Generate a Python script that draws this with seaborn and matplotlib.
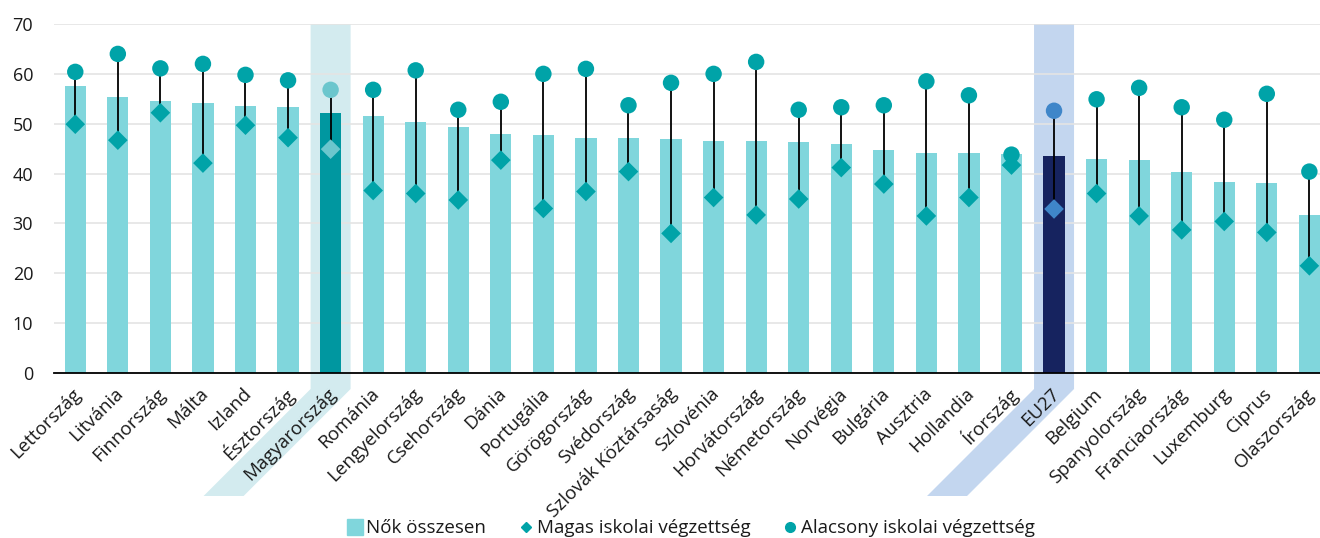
import numpy as np
import pandas as pd
import seaborn as sns
import matplotlib.pyplot as plt
import matplotlib.transforms as mtransforms
from matplotlib.patches import Polygon
from matplotlib.lines import Line2D

# Adatok (leolvasva az ábráról)
countries = ["Lettország", "Litvánia", "Finnország", "Málta", "Izland", "Észtország",
             "Magyarország", "Románia", "Lengyelország", "Csehország", "Dánia", "Portugália",
             "Görögország", "Svédország", "Szlovák Köztársaság", "Szlovénia", "Horvátország",
             "Németország", "Norvégia", "Bulgária", "Ausztria", "Hollandia", "Írország", "EU27",
             "Belgium", "Spanyolország", "Franciaország", "Luxemburg", "Ciprus", "Olaszország"]
women_total = [57.6, 55.3, 54.6, 54.2, 53.6, 53.3, 52.1, 51.5, 50.4, 49.3, 47.9, 47.7,
               47.2, 47.1, 47.0, 46.5, 46.5, 46.3, 45.9, 44.7, 44.1, 44.1, 43.9, 43.6,
               42.9, 42.7, 40.4, 38.3, 38.1, 31.7]
low_edu = [60.4, 64.0, 61.1, 62.0, 59.8, 58.7, 56.8, 56.8, 60.7, 52.8, 54.4, 60.0,
           61.0, 53.7, 58.2, 60.0, 62.4, 52.8, 53.3, 53.7, 58.5, 55.7, 43.8, 52.6,
           54.9, 57.2, 53.3, 50.8, 56.0, 40.4]
high_edu = [49.9, 46.7, 52.2, 42.1, 49.7, 47.2, 44.9, 36.6, 36.0, 34.7, 42.7, 33.0,
            36.4, 40.4, 28.0, 35.2, 31.7, 34.9, 41.2, 37.9, 31.5, 35.2, 41.7, 32.9,
            36.0, 31.5, 28.7, 30.4, 28.2, 21.5]

legend_labels = ["Nők összesen", "Magas iskolai végzettség", "Alacsony iskolai végzettség"]

BAR = "#80d6dc"
MARK = "#00a3a8"
HU, EU = "Magyarország", "EU27"

df = pd.DataFrame({"country": countries, "total": women_total,
                   "low": low_edu, "high": high_edu})
df["pos"] = np.arange(len(df))

bar_colors = {c: BAR for c in countries}
bar_colors[HU] = "#0097a0"
bar_colors[EU] = "#16235f"
mark_colors = [("#6cc6cd" if c == HU else "#3f86c9" if c == EU else MARK) for c in countries]

sns.set_theme(style="white")
plt.rcParams["font.family"] = ["Open Sans", "DejaVu Sans"]
plt.rcParams["text.color"] = "#1a1a1a"

fig, ax = plt.subplots(figsize=(13.2, 5.38), dpi=100)
fig.subplots_adjust(left=54 / 1320, right=1.0, top=1 - 24 / 538, bottom=1 - 373 / 538)

sns.barplot(data=df, x="country", y="total", hue="country", palette=bar_colors,
            order=countries, width=0.5, saturation=1, legend=False, ax=ax,
            zorder=1, linewidth=0)

ax.vlines(df["pos"], df["high"], df["low"], color="black", linewidth=1.3, zorder=2)
sns.scatterplot(x=df["pos"], y=df["high"], marker="D", s=100, c=mark_colors,
                linewidth=0, ax=ax, zorder=3)
sns.scatterplot(x=df["pos"], y=df["low"], marker="o", s=140, c=mark_colors,
                linewidth=0, ax=ax, zorder=3)

ax.set_xlim(-0.5, 29.25)
ax.set_ylim(0, 70)
ax.set_yticks(range(0, 71, 10))
ax.set_xlabel("")
ax.set_ylabel("")
ax.yaxis.grid(True, color="#e4e4e4", linewidth=1.2, zorder=0.5)
ax.set_axisbelow(True)
ax.patch.set_alpha(0)
for s in ["left", "right", "top"]:
    ax.spines[s].set_visible(False)
ax.spines["bottom"].set_color("black")
ax.spines["bottom"].set_linewidth(1.3)
ax.tick_params(axis="both", length=0, colors="#1a1a1a")
ax.tick_params(axis="y", pad=15, labelsize=13)
ax.tick_params(axis="x", pad=10, labelsize=13.5)
shift = mtransforms.ScaledTranslation(2 / 72, -3 / 72, fig.dpi_scale_trans)
for lbl in ax.get_xticklabels():
    lbl.set_rotation(45)
    lbl.set_ha("right")
    lbl.set_va("center")
    lbl.set_rotation_mode("anchor")
    lbl.set_transform(lbl.get_transform() + shift)

# Kiemelő sávok (Magyarország, EU27)
fig.canvas.draw()
inv = fig.transFigure.inverted()
for name, col in [(HU, "#d3ebef"), (EU, "#c3d6ef")]:
    i = countries.index(name)
    cx, y0 = ax.transData.transform((i, 0))
    ytop = ax.transData.transform((i, 70))[1]
    hw, d1, sl = 20, 16, 107
    pts = [(cx - hw, ytop), (cx + hw, ytop), (cx + hw, y0 - d1),
           (cx + hw - sl, y0 - d1 - sl), (cx - hw - sl, y0 - d1 - sl), (cx - hw, y0 - d1)]
    pts = inv.transform(pts)
    ax.add_artist(Polygon(pts, closed=True, transform=fig.transFigure, facecolor=col,
                          edgecolor="none", clip_on=False, zorder=0.4))

handles = [Line2D([], [], marker="s", color=BAR, linestyle="none", markersize=11),
           Line2D([], [], marker="D", color=MARK, linestyle="none", markersize=5.5),
           Line2D([], [], marker="o", color=MARK, linestyle="none", markersize=7)]
fig.legend(handles, legend_labels, loc="lower center", bbox_to_anchor=(0.523, -0.03),
           ncol=3, frameon=False, fontsize=13.5, handletextpad=0.1, columnspacing=1.6,
           handlelength=1.0)

fig.savefig("out.png", dpi=100)
